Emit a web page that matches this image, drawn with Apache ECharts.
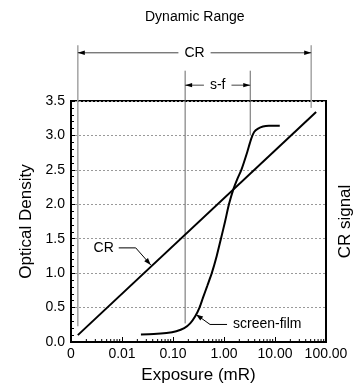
<!DOCTYPE html>
<html>
<head>
<meta charset="utf-8">
<script src="https://cdn.jsdelivr.net/npm/echarts@6/dist/echarts.min.js"></script>
<style>
  html, body { margin: 0; padding: 0; background: #fff; }
  #chart { width: 362px; height: 389px; }
</style>
</head>
<body>
<div id="chart"></div>
<script>
// CR response, straight on the log exposure axis
const crExposure = [0.00136, 64];
const crDensity = [0.1, 3.34];

// screen-film characteristic curve
const sfExposure = [0.0235, 0.0418, 0.0746, 0.116, 0.166, 0.217, 0.271, 0.331, 0.386, 0.472, 0.576, 0.72, 0.871,
  1.05, 1.25, 1.53, 1.83, 2.19, 2.86, 3.41, 3.9, 4.66, 5.81, 7.59, 12.4];
const sfDensity = [0.11, 0.115, 0.13, 0.155, 0.2, 0.27, 0.37, 0.5, 0.64, 0.82, 1.0, 1.25, 1.5,
  1.75, 2.0, 2.22, 2.37, 2.5, 2.76, 2.95, 3.05, 3.1, 3.13, 3.14, 3.14];

// dynamic range markers: exposure bounds, and densities the marker lines run between
const rangeNames = ['CR', 's-f'];
const rangeLow = [0.00136, 0.173];
const rangeHigh = [51.3, 3.27];
const rangeArrowAt = [4.2, 3.73];
const rangeLineTop = [4.31, 3.94];
const rangeLowEnd = [0.23, 0.27];
const rangeHighEnd = [3.4, 3.0];

// callouts pointing at the curves
const calloutText = ['CR', 'screen-film'];
const calloutExposure = [0.0366, 0.283];
const calloutDensity = [1.12, 0.4];

const xTickLabels = ['0', '0.01', '0.10', '1.00', '10.00', '100.00'];
const xDecades = [0.001, 0.01, 0.1, 1, 10];
const yTickLabels = ['0.0', '0.5', '1.0', '1.5', '2.0', '2.5', '3.0', '3.5'];

const font = 'Liberation Sans, Arial, Helvetica, sans-serif';
const xMinorTicks = [];
xDecades.forEach(d => { for (let m = 2; m <= 9; m++) xMinorTicks.push(d * m); });

// vertical marker lines: [exposure, from, to, kind]
const markerLines = [];
rangeNames.forEach((n, i) => {
  markerLines.push([rangeLow[i], rangeLowEnd[i], rangeLineTop[i], i]);
  markerLines.push([rangeHigh[i], rangeHighEnd[i], rangeLineTop[i], i]);
});

// callout shape offsets (px from tip)
const calloutElbow = [[-15, -17], [14, 10]];
const calloutTail = [-17, 17];

function arrowHead(tip, from, len, half) {
  const dx = tip[0] - from[0], dy = tip[1] - from[1];
  const d = Math.sqrt(dx * dx + dy * dy) || 1;
  const ux = dx / d, uy = dy / d;
  const bx = tip[0] - ux * len, by = tip[1] - uy * len;
  return {
    type: 'polygon',
    shape: { points: [tip, [bx - uy * half, by + ux * half], [bx + uy * half, by - ux * half]] },
    style: { fill: '#000' }
  };
}

const chart = echarts.init(document.getElementById('chart'));
chart.setOption({
  animation: false,
  title: {
    text: 'Dynamic Range',
    left: 140,
    top: 5,
    textStyle: { fontSize: 14, fontWeight: 'normal', color: '#000', fontFamily: font }
  },
  grid: { left: 71, right: 32, top: 101, bottom: 43, show: true, borderColor: '#000', borderWidth: 2 },
  xAxis: {
    type: 'log',
    logBase: 10,
    min: 0.001,
    max: 100,
    name: 'Exposure (mR)',
    nameLocation: 'middle',
    nameGap: 25,
    nameTextStyle: { fontSize: 17, color: '#000', fontFamily: font },
    axisLine: { lineStyle: { color: '#000', width: 2 } },
    axisTick: { inside: true, length: 5, lineStyle: { color: '#000' } },
    axisLabel: { formatter: (v, i) => xTickLabels[i], color: '#000', fontSize: 14, fontFamily: font, margin: 5 },
    splitLine: { show: false }
  },
  yAxis: [{
    type: 'value',
    min: 0,
    max: 3.5,
    interval: 0.5,
    name: 'Optical Density',
    nameLocation: 'middle',
    nameGap: 34,
    nameTextStyle: { fontSize: 17, color: '#000', fontFamily: font },
    axisLine: { show: true, lineStyle: { color: '#000', width: 2 } },
    axisTick: { show: true, inside: true, length: 4, lineStyle: { color: '#000' } },
    minorTick: { show: true, splitNumber: 5, length: 3, lineStyle: { color: '#000' } },
    axisLabel: { formatter: (v, i) => yTickLabels[i], color: '#000', fontSize: 14, fontFamily: font, margin: 6 },
    splitLine: { show: true, lineStyle: { color: '#999', type: [2, 2], width: 1 } }
  }, {
    type: 'value',
    min: 0,
    max: 3.5,
    position: 'right',
    name: 'CR signal',
    nameLocation: 'middle',
    nameGap: 11,
    nameTextStyle: { fontSize: 17, color: '#000', fontFamily: font },
    axisLine: { show: false },
    axisTick: { show: false },
    axisLabel: { show: false },
    splitLine: { show: false }
  }],
  series: [
    {
      name: 'CR',
      type: 'line',
      data: crExposure.map((e, i) => [e, crDensity[i]]),
      symbol: 'none',
      lineStyle: { color: '#000', width: 2 },
      silent: true
    },
    {
      name: 'screen-film',
      type: 'line',
      data: sfExposure.map((e, i) => [e, sfDensity[i]]),
      smooth: 0.25,
      symbol: 'none',
      lineStyle: { color: '#000', width: 2 },
      silent: true
    },
    {
      // log minor ticks on the exposure axis
      type: 'custom',
      data: xMinorTicks.map(v => [v, 0]),
      encode: { x: 0, y: 1 },
      silent: true,
      renderItem: (params, api) => {
        const p = api.coord([api.value(0), 0]);
        return { type: 'line', shape: { x1: p[0], y1: p[1], x2: p[0], y2: p[1] - 3 }, style: { stroke: '#000', lineWidth: 1 } };
      }
    },
    {
      type: 'custom',
      data: markerLines,
      encode: { x: 0, y: [1, 2] },
      clip: false,
      silent: true,
      renderItem: (params, api) => {
        const a = api.coord([api.value(0), api.value(1)]);
        const b = api.coord([api.value(0), api.value(2)]);
        const cr = api.value(3) === 0;
        return {
          type: 'line',
          shape: { x1: a[0], y1: a[1], x2: b[0], y2: b[1] },
          style: { stroke: cr ? '#aaa' : '#666', lineWidth: cr ? 1.6 : 1 }
        };
      }
    },
    {
      type: 'custom',
      data: rangeNames.map((n, i) => [rangeLow[i], rangeHigh[i], rangeArrowAt[i]]),
      encode: { x: [0, 1], y: 2 },
      clip: false,
      silent: true,
      renderItem: (params, api) => {
        const l = api.coord([api.value(0), api.value(2)]);
        const r = api.coord([api.value(1), api.value(2)]);
        return {
          type: 'group',
          children: [
            { type: 'line', shape: { x1: l[0], y1: l[1], x2: r[0], y2: r[1] }, style: { stroke: '#444', lineWidth: 1 } },
            arrowHead(l, r, 7, 2.2),
            arrowHead(r, l, 7, 2.2),
            {
              type: 'text',
              style: {
                text: rangeNames[params.dataIndex],
                x: (l[0] + r[0]) / 2,
                y: l[1],
                align: 'center',
                verticalAlign: 'middle',
                font: '14px ' + font,
                fill: '#000',
                backgroundColor: '#fff',
                padding: [0, 6]
              }
            }
          ]
        };
      }
    },
    {
      type: 'custom',
      data: calloutText.map((t, i) => [calloutExposure[i], calloutDensity[i]]),
      encode: { x: 0, y: 1 },
      clip: false,
      silent: true,
      renderItem: (params, api) => {
        const i = params.dataIndex;
        const tip = api.coord([api.value(0), api.value(1)]);
        const elbow = [tip[0] + calloutElbow[i][0], tip[1] + calloutElbow[i][1]];
        const tail = [elbow[0] + calloutTail[i], elbow[1]];
        const right = calloutTail[i] > 0;
        return {
          type: 'group',
          children: [
            { type: 'polyline', shape: { points: [tip, elbow, tail] }, style: { stroke: '#000', lineWidth: 1, fill: null } },
            arrowHead(tip, elbow, 7, 2.5),
            {
              type: 'text',
              style: {
                text: calloutText[i],
                x: tail[0] + (right ? 6 : -5),
                y: tail[1],
                align: right ? 'left' : 'right',
                verticalAlign: 'middle',
                font: '14px ' + font,
                fill: '#000'
              }
            }
          ]
        };
      }
    }
  ]
});
</script>
</body>
</html>
